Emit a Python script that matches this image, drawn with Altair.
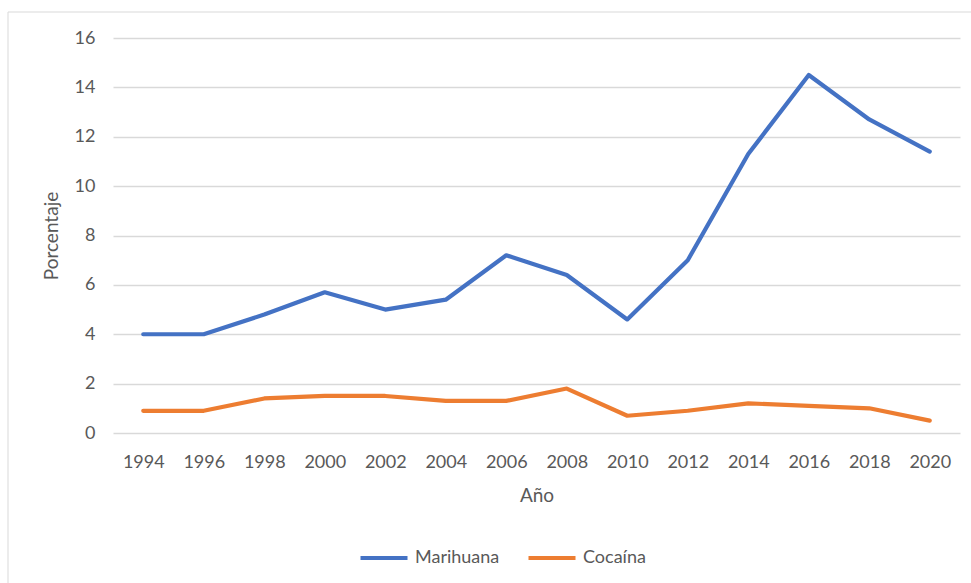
import altair as alt
import pandas as pd

# Survey years and prevalence (%) per substance
years = [1994, 1996, 1998, 2000, 2002, 2004, 2006, 2008, 2010, 2012, 2014, 2016, 2018, 2020]
marihuana = [4.0, 4.0, 4.8, 5.7, 5.0, 5.4, 7.2, 6.4, 4.6, 7.0, 11.3, 14.5, 12.7, 11.4]
cocaina = [0.9, 0.9, 1.4, 1.5, 1.5, 1.3, 1.3, 1.8, 0.7, 0.9, 1.2, 1.1, 1.0, 0.5]

series_names = ["Marihuana", "Cocaína"]
series_colors = ["#4472C4", "#ED7D31"]
y_ticks = [0, 2, 4, 6, 8, 10, 12, 14, 16]

df = pd.DataFrame(
    {
        "Año": years * 2,
        "Porcentaje": marihuana + cocaina,
        "Sustancia": [series_names[0]] * len(years) + [series_names[1]] * len(years),
    }
)

FONT = "Lato"
W, H = 847, 395

# light frame around the whole chart
frame = alt.Chart(pd.DataFrame({"k": [0]})).mark_rect(
    fill=None, stroke="#d9d9d9", strokeWidth=1
).encode(
    x=alt.value(-105), x2=alt.value(W + 40),
    y=alt.value(-26), y2=alt.value(H + 180),
)

lines = alt.Chart(df).mark_line(strokeWidth=4.2, strokeCap="round", strokeJoin="round").encode(
    x=alt.X(
        "Año:O",
        scale=alt.Scale(type="point", padding=0.5),
        axis=alt.Axis(
            title="Año", labelAngle=0, tickSize=0, domain=False, grid=False,
            labelPadding=20, titlePadding=15,
        ),
    ),
    y=alt.Y(
        "Porcentaje:Q",
        scale=alt.Scale(domain=[0, 16], nice=False),
        axis=alt.Axis(
            title="Porcentaje", values=y_ticks, tickSize=0, domain=False,
            labelPadding=18, titlePadding=13, grid=True,
        ),
    ),
    color=alt.Color(
        "Sustancia:N",
        scale=alt.Scale(domain=series_names, range=series_colors),
        sort=series_names,
        legend=alt.Legend(
            title=None, orient="none", direction="horizontal",
            legendX=245, legendY=509 - 15,
            symbolType="stroke", symbolSize=2209, symbolStrokeWidth=4.2,
            labelOffset=5, columnPadding=20, padding=0,
        ),
    ),
)

chart = alt.layer(frame, lines).properties(
    width=W, height=H,
    autosize=alt.AutoSizeParams(type="none"),
    padding={"left": 113, "top": 38, "right": 11, "bottom": 150},
).configure_view(stroke=None).configure_axis(
    labelFont=FONT, titleFont=FONT, labelFontSize=18, titleFontSize=19,
    labelColor="#595959", titleColor="#595959", titleFontWeight="normal",
    gridColor="#d9d9d9", gridWidth=1.5,
).configure_legend(
    labelFont=FONT, labelFontSize=18, labelColor="#595959",
)

chart.save("out.html", embed_options={"renderer": "svg", "actions": False})
